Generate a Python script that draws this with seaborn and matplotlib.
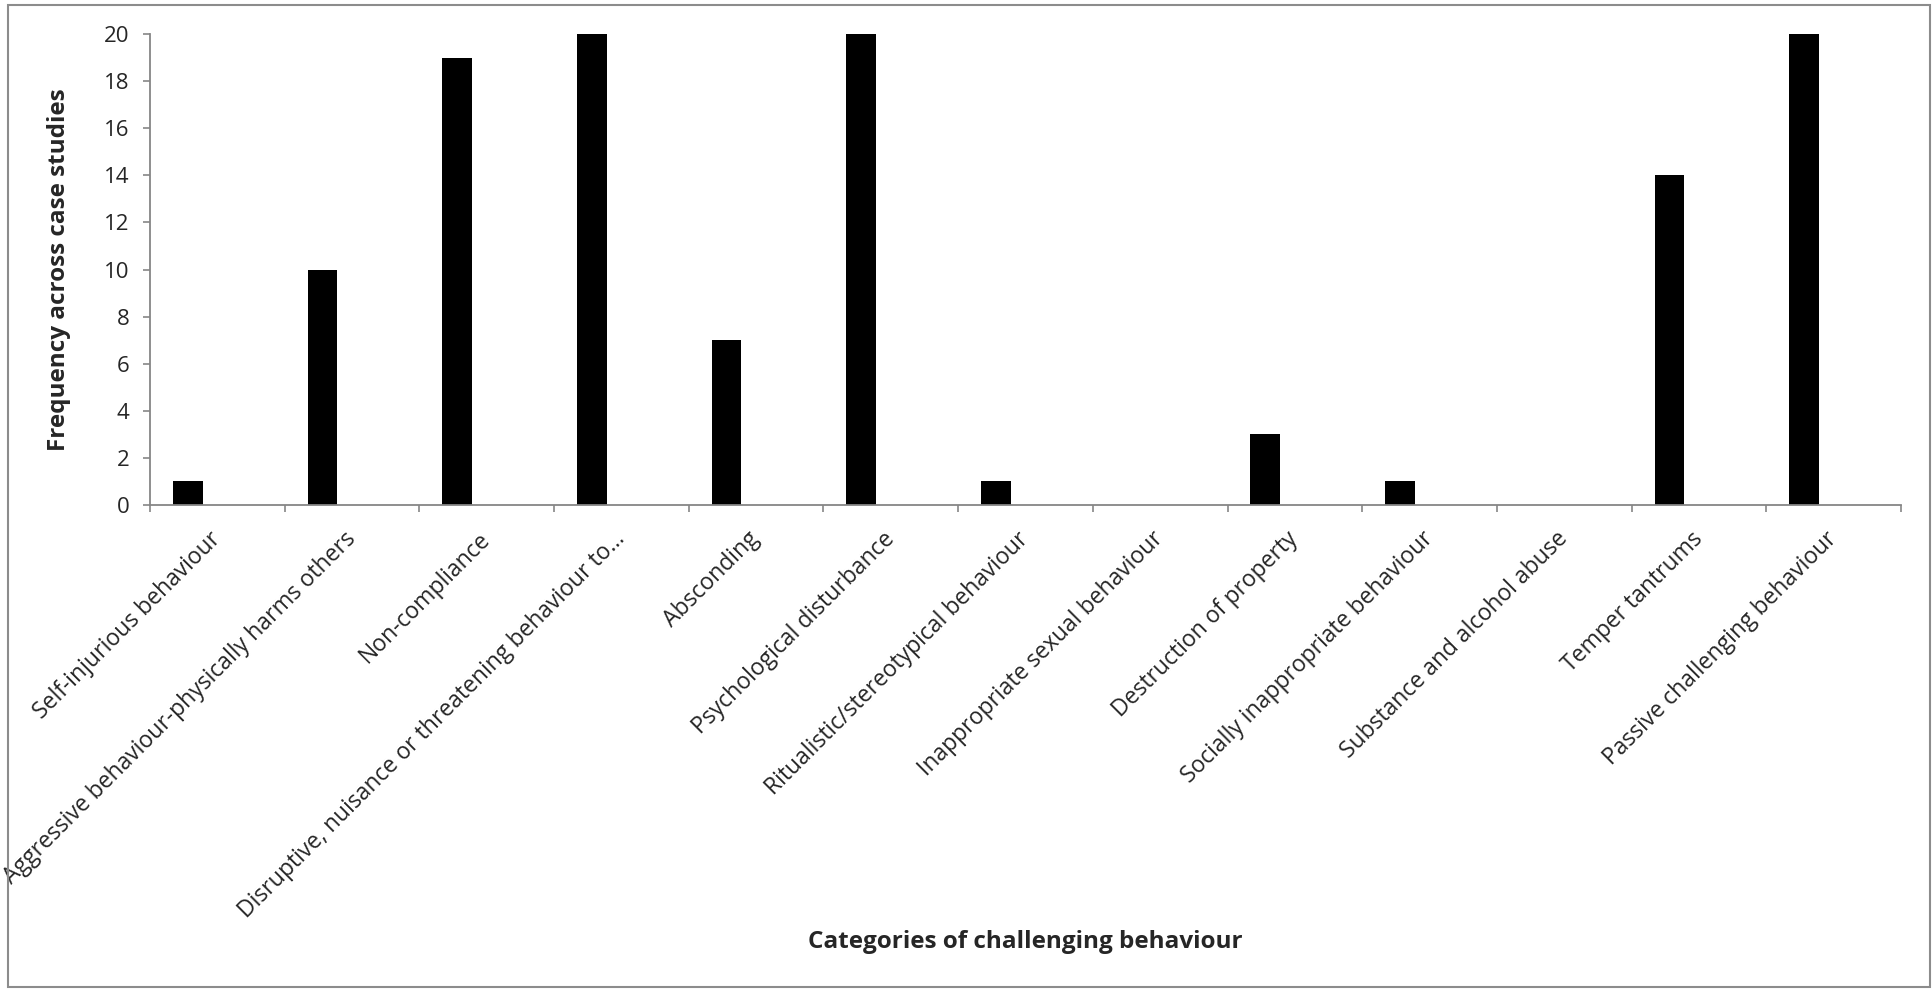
import matplotlib
matplotlib.use("Agg")
import matplotlib.pyplot as plt
from matplotlib.patches import Rectangle
from matplotlib.ticker import FixedLocator, NullFormatter
import seaborn as sns
import pandas as pd

categories = [
    "Self-injurious behaviour",
    "Aggressive behaviour-physically harms others",
    "Non-compliance",
    "Disruptive, nuisance or threatening behaviour to…",
    "Absconding",
    "Psychological disturbance",
    "Ritualistic/stereotypical behaviour",
    "Inappropriate sexual behaviour",
    "Destruction of property",
    "Socially inappropriate behaviour",
    "Substance and alcohol abuse",
    "Temper tantrums",
    "Passive challenging behaviour",
]
frequency = [1, 10, 19, 20, 7, 20, 1, 0, 3, 1, 0, 14, 20]
empty_series = [0] * len(categories)   # blank second series in the source chart
y_ticks = [0, 2, 4, 6, 8, 10, 12, 14, 16, 18, 20]
series_names = ["Frequency", "Series 2"]

sns.set_theme(style="white")
plt.rcParams["font.family"] = ["Open Sans", "DejaVu Sans"]

df = pd.concat([
    pd.DataFrame({"category": categories, "value": frequency, "series": series_names[0]}),
    pd.DataFrame({"category": categories, "value": empty_series, "series": series_names[1]}),
], ignore_index=True)

fig = plt.figure(figsize=(19.32, 9.9), dpi=100)
ax = fig.add_axes([150/1932, 1-505/990, (1901-150)/1932, (505-34)/990])

sns.barplot(data=df, x="category", y="value", hue="series",
            hue_order=series_names, order=categories,
            palette=["black", "white"], width=0.88, gap=0.5,
            legend=False, ax=ax, saturation=1, errorbar=None, linewidth=0)

axis_col = "#868686"
ax.set_xlim(-0.5, len(categories) - 0.5)
ax.set_ylim(0, 20)
ax.set_yticks(y_ticks)
ax.set_yticklabels([str(t) for t in y_ticks], fontsize=16)
for s in ["top", "right"]:
    ax.spines[s].set_visible(False)
for s in ["left", "bottom"]:
    ax.spines[s].set_color(axis_col)
    ax.spines[s].set_linewidth(1.3)
    ax.spines[s].set_zorder(5)

ax.tick_params(axis="y", which="major", direction="out", length=5,
               width=1.2, color=axis_col, pad=10, left=True)
ax.set_xticks(range(len(categories)))
ax.set_xticklabels(categories, fontsize=16.5, rotation=45, ha="right",
                   va="center", rotation_mode="anchor")
ax.tick_params(axis="x", which="major", length=0, pad=22)
ax.xaxis.set_minor_locator(FixedLocator([i - 0.5 for i in range(len(categories) + 1)]))
ax.xaxis.set_minor_formatter(NullFormatter())
ax.tick_params(axis="x", which="minor", direction="out", length=5,
               width=1.2, color=axis_col, bottom=True)

ax.set_xlabel("Categories of challenging behaviour", fontsize=17.5,
              fontweight="bold")
ax.xaxis.set_label_coords(0.5, -(942-505)/471)
ax.xaxis.label.set_va("center")
ax.set_ylabel("Frequency across case studies", fontsize=17.5,
              fontweight="bold")
ax.yaxis.set_label_coords((59-150)/1751, 0.5)
ax.yaxis.label.set_va("center")

fig.patches.append(Rectangle((8/1932, 1-987/990), (1930-8)/1932, (987-5)/990,
                             transform=fig.transFigure, fill=False,
                             edgecolor="#8c8c8c", linewidth=1.5))

fig.savefig("out.png", dpi=100, facecolor="white")
